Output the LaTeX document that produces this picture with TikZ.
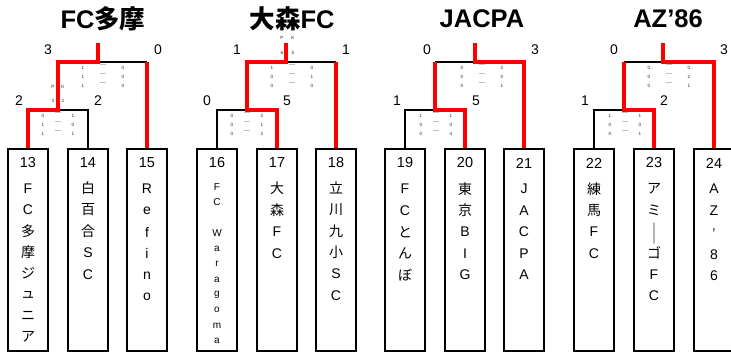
\documentclass[tikz,border=0pt]{standalone}
\usepackage{fontspec}
\setmainfont{Liberation Sans}
\newfontfamily\jpfont{Noto Sans CJK JP}
\newcommand\J[1]{{\jpfont #1}}
\tikzset{
  ttl/.style={font=\fontsize{25.5}{28}\selectfont\bfseries, inner sep=0pt},
  score/.style={font=\fontsize{14}{16}\selectfont, inner sep=0pt},
  tinytxt/.style={font=\fontsize{4.6}{5}\selectfont, inner sep=0pt, text=black!85},
  tinydash/.style={font=\fontsize{7}{7}\selectfont\jpfont, inner sep=0pt, text=black!85},
  teambox/.style={draw, line width=2.5pt, minimum width=40pt, minimum height=202pt, inner sep=0pt},
  boxnum/.style={font=\fontsize{14.5}{16}\selectfont, inner sep=0pt},
  boxch/.style={font=\fontsize{14}{16}\selectfont, inner sep=0pt},
  smallch/.style={font=\fontsize{10}{12}\selectfont, inner sep=0pt},
  bk/.style={line width=2.2pt, draw=black},
  rd/.style={line width=4pt, draw=red},
}
\begin{document}
\begin{tikzpicture}[x=1pt,y=-1pt]
\useasboundingbox (0,0) rectangle (731,353);

% titles
\node[ttl] (t1) at (103,19) {FC\J{多摩}};
\node[ttl] (t2) at (292,19) {\J{大森}FC};
\node[ttl] (t3) at (482,19) {JACPA};
\node[ttl] (t4) at (668,19) {AZ’86};

% boxes
\foreach \n/\x in {13/28,14/88,15/147,16/217,17/277,18/336,19/405,20/465,21/524,22/594,23/654,24/714}{
  \node[teambox] (b\n) at (\x,250) {};
  \node[boxnum] (n\n) at (\x,163) {\n};
}

% box texts
\foreach \c [count=\i from 0] in {F,C,\J{多},\J{摩},\J{ジ},\J{ュ},\J{ニ},\J{ア}}
  \node[boxch] (c13-\i) at (28,189+21.1*\i) {\c};
\foreach \c [count=\i from 0] in {\J{白},\J{百},\J{合},S,C}
  \node[boxch] (c14-\i) at (88,188+21.7*\i) {\c};
\foreach \c [count=\i from 0] in {R,e,f,i,n,o}
  \node[boxch] (c15-\i) at (147,189+21.6*\i) {\c};
\foreach \c [count=\i from 0] in {F,C,{},W,a,r,a,g,o,m,a}
  \node[smallch] (c16-\i) at (217,187+15.4*\i) {\c};
\foreach \c [count=\i from 0] in {\J{大},\J{森},F,C}
  \node[boxch] (c17-\i) at (277,188+22*\i) {\c};
\foreach \c [count=\i from 0] in {\J{立},\J{川},\J{九},\J{小},S,C}
  \node[boxch] (c18-\i) at (336,188+21.5*\i) {\c};
\foreach \c [count=\i from 0] in {F,C,\J{と},\J{ん},\J{ぼ}}
  \node[boxch] (c19-\i) at (405,189+21.5*\i) {\c};
\foreach \c [count=\i from 0] in {\J{東},\J{京},B,I,G}
  \node[boxch] (c20-\i) at (465,189+21.5*\i) {\c};
\foreach \c [count=\i from 0] in {J,A,C,P,A}
  \node[boxch] (c21-\i) at (524,189+21.5*\i) {\c};
\foreach \c [count=\i from 0] in {\J{練},\J{馬},F,C}
  \node[boxch] (c22-\i) at (594,189+21.5*\i) {\c};
\foreach \c [count=\i from 0] in {\J{ア},\J{ミ},{},\J{ゴ},F,C}
  \node[boxch] (c23-\i) at (654,189+21.3*\i) {\c};
\node[boxch] (c23x) at (654,234) {\scalebox{1}[1.5]{\J{｜}}};
\node[boxch] (c24-0) at (714,189) {A};
\node[boxch] (c24-1) at (714,210.5) {Z};
\node[boxch, anchor=base] (c24-2) at (714,238) {’};
\node[boxch] (c24-3) at (714,254.5) {8};
\node[boxch] (c24-4) at (714,276) {6};

% junction coordinates
\foreach \g/\a/\m/\b/\s/\c in {1/28/58/88/98/147, 2/217/247/277/286/336, 3/405/435/465/475/524, 4/594/624/654/663/714}{
  \coordinate (g\g a) at (\a,110);
  \coordinate (g\g m) at (\m,110);
  \coordinate (g\g b) at (\b,110);
  \coordinate (g\g u) at (\m,62);
  \coordinate (g\g s) at (\s,62);
  \coordinate (g\g w) at (\s,43);
  \coordinate (g\g c) at (\c,62);
}

% black connectors
\draw[bk] (g1m) -- (g1b) -- (b14.north);
\draw[bk] (g1s) -- (g1c);
\draw[bk] (b16.north) -- (g2a) -- (g2m);
\draw[bk] (g2s) -- (g2c);
\draw[bk] (b19.north) -- (g3a) -- (g3m);
\draw[bk] (g3u) -- (g3s);
\draw[bk] (b22.north) -- (g4a) -- (g4m);
\draw[bk] (g4u) -- (g4s);

% red connectors
\draw[rd] (b13.north) -- (g1a) -- (g1m) -- (g1u) -- (g1s) -- (g1w);
\draw[rd] (g1c) -- (b15.north);
\draw[rd] (b17.north) -- (g2b) -- (g2m) -- (g2u) -- (g2s) -- (g2w);
\draw[rd] (g2c) -- (b18.north);
\draw[rd] (b20.north) -- (g3b) -- (g3m) -- (g3u);
\draw[rd] (g3w) -- (g3s) -- (g3c) -- (b21.north);
\draw[rd] (b23.north) -- (g4b) -- (g4m) -- (g4u);
\draw[rd] (g4w) -- (g4s) -- (g4c) -- (b24.north);

% big scores
\foreach \t/\x/\y [count=\k] in {3/48/50,0/158/50,2/19/101,2/98/101,
  1/237/50,1/346/50,0/207/101,5/287/101,
  0/427/50,3/535/50,1/397/101,5/476/101,
  0/614/50,3/724/50,1/585/101,2/664/101}
  \node[score] (sc\k) at (\x,\y) {\t};

% PK
\node[tinytxt] (pk1p) at (53,87) {P};
\node[tinytxt] (pk1k) at (63,87) {K};
\node[tinytxt] (pk1a) at (53,101) {3};
\node[tinytxt] (pk1b) at (63,101) {2};
\node[tinytxt] (pk2p) at (282,38) {P};
\node[tinytxt] (pk2k) at (293,38) {K};
\node[tinytxt] (pk2a) at (282,53) {6};
\node[tinytxt] (pk2b) at (293,53) {5};

% small score tables
\foreach \g/\D/\Y/\w/\rows in {
  1/103/68/20/{1/0,1/0,1/0},
  2/292/68/20/{1/0,0/1,0/0},
  3/482/68/20/{0/2,0/0,0/1},
  4/669/68/20/{0/0,0/2,0/1},
  5/58/116/15/{0/1,1/0,1/1},
  6/247/116/15/{0/2,0/1,0/2},
  7/436/116/15/{1/1,0/0,0/4},
  8/625/116/15/{1/1,0/0,0/1}}{
  \foreach \l/\r [count=\i from 0] in \rows {
    \node[tinytxt] (st\g l\i) at (\D-\w,\Y+9*\i) {\l};
    \node[tinydash] (st\g d\i) at (\D,\Y+9*\i-1.5) {―};
    \node[tinytxt] (st\g r\i) at (\D+\w,\Y+9*\i) {\r};
  }
}
\end{tikzpicture}
\end{document}
